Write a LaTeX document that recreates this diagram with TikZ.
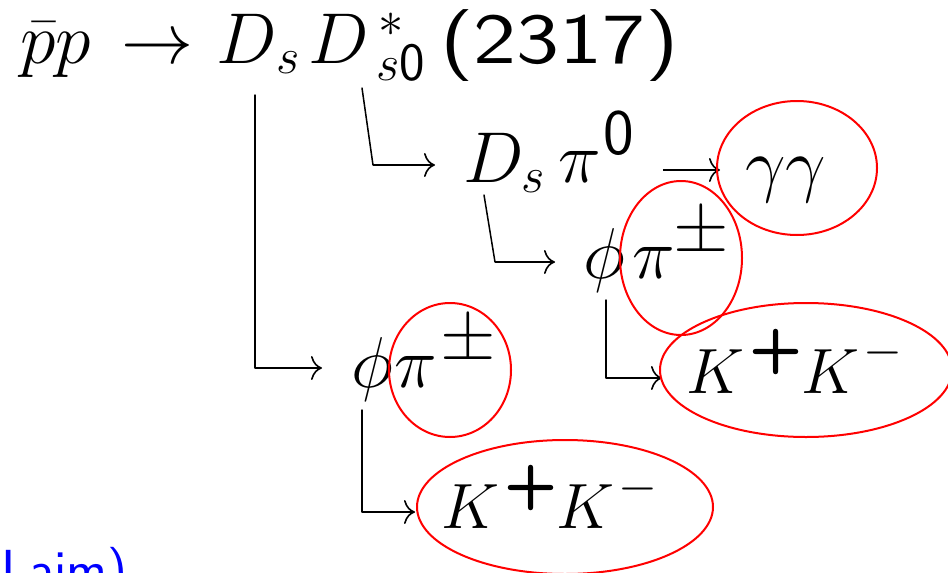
\RequirePackage{fix-cm}
\documentclass[tikz,border=0pt]{standalone}
\usepackage{fontspec}
\usetikzlibrary{arrows.meta}
\newcommand\sfz[1]{\hbox{\sffamily\fontsize{#1}{#1}\selectfont 0}}
\tikzset{
  mt/.style={anchor=base west, inner sep=0pt, font=\fontsize{72}{80}\selectfont},
  kt/.style={anchor=base west, inner sep=0pt, font=\fontsize{64}{70}\selectfont},
  st/.style={anchor=base west, inner sep=0pt, font=\sffamily\fontsize{64}{70}\selectfont},
  bt/.style={anchor=base west, inner sep=0pt, font=\sffamily\bfseries\fontsize{62}{70}\selectfont},
  pmt/.style={anchor=base west, inner sep=0pt, font=\sffamily\fontsize{76}{80}\selectfont},
  stem/.style={line width=1.5pt, line cap=round},
  arr/.style={line width=2.8pt, -{Computer Modern Rightarrow[length=11pt,width=24pt,line width=1.6pt]}},
  ring/.style={draw=red, line width=2pt},
}
\begin{document}
\begin{tikzpicture}[x=1pt,y=-1pt]
\useasboundingbox (0,0) rectangle (948,573);
\clip (0,0) rectangle (948,573);
% top line
\node[mt] (pp) at (20,63) {$\bar pp$};
\node[mt] (to1) at (121,63) {$\rightarrow$};
\node[mt] (Ds) at (216,63) {$D_{\kern2pt s}$};
\node[mt] (Dss) at (308,63) {$D^{\kern10pt *}_{\kern10pt s\sfz{54}}$};
\node[st, font=\sffamily\fontsize{72}{80}\selectfont] (mass) at (440,63) {\scalebox{1.27}[1]{(2317)}};
% second line
\node[mt] (Dpi) at (463,182) {$D_s$};
\node[mt] (pi2) at (558,182) {$\pi$};
\node[st, font=\sffamily\fontsize{65}{70}\selectfont] (z0) at (603,154) {0};
\node[mt] (gg) at (745,188) {$\gamma\gamma$};
% upper phi pi
\node[mt] (phiU) at (583,278) {$\phi$};
\node[mt] (piU) at (632,278) {$\pi$};
\node[pmt] (pmU) at (673,251) {±};
\node[kt] (KU) at (686,393) {$K$};
\node[bt] (plU) at (749,367) {+};
\node[kt] (KU2) at (801,393) {$K$};
\node[mt, font=\fontsize{50}{56}\selectfont] (miU) at (863,365) {$-$};
% lower phi pi
\node[mt] (phiL) at (351,387) {$\phi$};
\node[mt] (piL) at (394,387) {$\pi$};
\node[pmt] (pmL) at (440,359) {±};
\node[kt] (KL) at (441,528) {$K$};
\node[bt] (plL) at (504,503) {+};
\node[kt] (KL2) at (556,528) {$K$};
\node[mt, font=\fontsize{50}{56}\selectfont] (miL) at (618,501) {$-$};
% blue text
\node[anchor=base west, inner sep=0pt, text=blue, font=\sffamily\fontsize{55}{60}\selectfont] (note) at (1,588) {Laim)};
% corners and starts
\coordinate (s1) at (255,95);   \coordinate (c1) at (255,368);
\coordinate (s2) at (362,88);   \coordinate (c2) at (373,165);
\coordinate (s3) at (484,195);  \coordinate (c3) at (495,262);
\coordinate (s4) at (606,300);  \coordinate (c4) at (606,378);
\coordinate (s5) at (362,410);  \coordinate (c5) at (362,512);
% connectors
\draw[stem] (s1) -- (c1);
\draw[arr, shorten >=29pt] (c1) -- (c1 -| phiL.west);
\draw[stem] (s2) -- (c2);
\draw[arr, shorten >=28pt] (c2) -- (c2 -| Dpi.west);
\draw[stem] (s3) -- (c3);
\draw[arr, shorten >=28pt] (c3) -- (c3 -| phiU.west);
\draw[stem] (s4) -- (c4);
\draw[arr, shorten >=24pt] (c4) -- (c4 -| KU.west);
\draw[stem] (s5) -- (c5);
\draw[arr, shorten >=26pt] (c5) -- (c5 -| KL.west);
\draw[arr] ([xshift=29pt]z0.east |- 0,170) -- ([xshift=-25pt]gg.west |- 0,170);
% red ellipses
\draw[ring] (797,168) ellipse (80 and 67);
\draw[ring] (681,258) ellipse (61 and 77);
\draw[ring] (806,370) ellipse (146 and 67);
\draw[ring] (450,370) ellipse (61 and 67);
\draw[ring] (565,507) ellipse (148 and 67);
\end{tikzpicture}
\end{document}
